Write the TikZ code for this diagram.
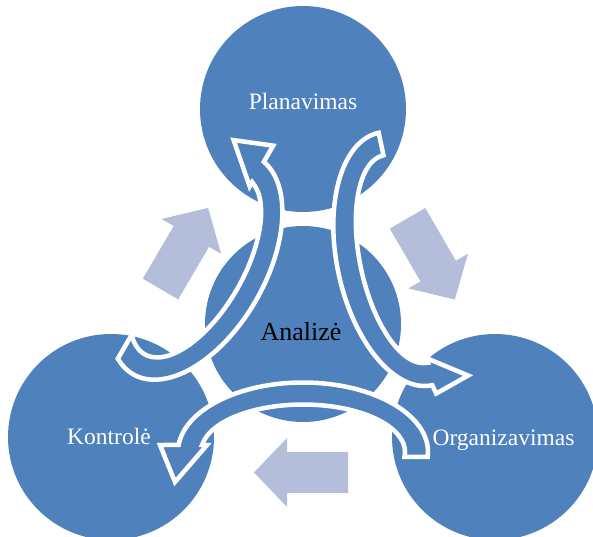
\documentclass[tikz,border=0pt]{standalone}
\usepackage{fontspec}
\setmainfont{Liberation Serif}
\definecolor{cblue}{RGB}{79,129,189}
\definecolor{clight}{RGB}{180,190,218}
\begin{document}
\begin{tikzpicture}[x=1pt,y=1pt,
  band/.style={fill=cblue, draw=white, line width=4.5pt, line join=miter},
  blockarrow/.style={fill=clight},
  circ/.style={fill=cblue},
  lbl/.style={text=white, font=\fontsize{23.5}{28}\selectfont, anchor=base, inner sep=0pt}]
\useasboundingbox (0,0) rectangle (593,536);
% circles
\fill[circ] (303,427) circle[radius=103pt];
\fill[circ] (303,212) circle[radius=98pt];
\fill[circ] (111,99) circle[radius=103pt];
\fill[circ] (495,99) circle[radius=103pt];
% block arrows
\fill[blockarrow, shift={(348,63.5)}, rotate=180] (0,-20.5) -- (61,-20.5) -- (61,-34.5) -- (94,0) -- (61,34.5) -- (61,20.5) -- (0,20.5) -- cycle;
\fill[blockarrow, shift={(160.5,247)}, rotate=59.6] (0,-20.5) -- (61,-20.5) -- (61,-34.5) -- (94,0) -- (61,34.5) -- (61,20.5) -- (0,20.5) -- cycle;
\fill[blockarrow, shift={(407.5,317.7)}, rotate=-59.8] (0,-20.5) -- (61,-20.5) -- (61,-34.5) -- (94,0) -- (61,34.5) -- (61,20.5) -- (0,20.5) -- cycle;
% curved bands
\draw[band, shift={(303,84)}] (-4.1:125pt and 69.5pt) arc[start angle=-4.1, end angle=174.2, x radius=125pt, y radius=69.5pt] -- (-143,7) -- (-128,-30) -- (-96,7) -- (171.5:102pt and 47.5pt) arc[start angle=171.5, end angle=-6, x radius=102pt, y radius=47.5pt] -- cycle;
\draw[band, shift={(195.6,270)}, rotate=-120] (-17.6:125pt and 69.5pt) arc[start angle=-17.6, end angle=174.2, x radius=125pt, y radius=69.5pt] -- (-143,7) -- (-128,-30) -- (-96,7) -- (171.5:102pt and 47.5pt) arc[start angle=171.5, end angle=-26.2, x radius=102pt, y radius=47.5pt] -- cycle;
\draw[band, shift={(405.5,277)}, rotate=102] (0:129pt and 68.5pt) arc[start angle=0, end angle=180, x radius=129pt, y radius=68.5pt] -- (-138,-2) -- (-127,-37) -- (-100,2) -- (180:106pt and 45.5pt) arc[start angle=180, end angle=0, x radius=106pt, y radius=45.5pt] -- cycle;
% labels
\node[lbl] (plan) at (303,426) {Planavimas};
\node[lbl] (kontr) at (109,92) {Kontrolė};
\node[lbl] (org) at (503.5,91) {Organizavimas};
\node[lbl, text=black, font=\fontsize{26}{30}\selectfont] (anal) at (301,196) {Analizė};
\end{tikzpicture}
\end{document}
